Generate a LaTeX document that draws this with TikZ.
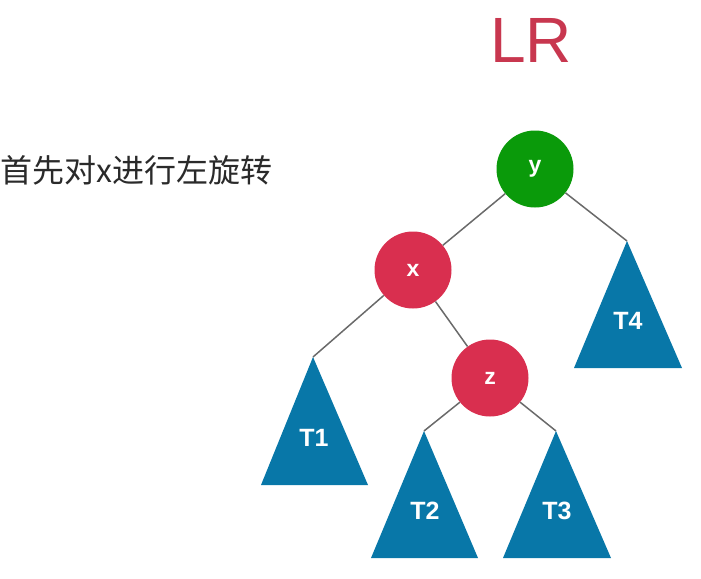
\documentclass[tikz,border=0pt]{standalone}
\usepackage{fontspec}
\setmainfont{Liberation Sans}
\newfontfamily\cjk{Noto Sans CJK SC}
\definecolor{nodegreen}{HTML}{0A9A0A}
\definecolor{nodered}{HTML}{D92F4F}
\definecolor{treeblue}{HTML}{0877A8}
\definecolor{titlered}{HTML}{C8374F}
\definecolor{edgegray}{HTML}{6A6A6A}
\definecolor{textgray}{HTML}{2A2A2A}
\begin{document}
\begin{tikzpicture}[x=1pt,y=-1pt,
  treenode/.style={circle,minimum size=77pt,inner sep=0pt,text=white,font=\fontsize{23}{25}\selectfont\bfseries},
  sublabel/.style={text=white,font=\fontsize{25}{28}\selectfont\bfseries,inner sep=0pt},
  subtree/.style={fill=treeblue},
  edge/.style={draw=edgegray,line width=1.5pt}]
\useasboundingbox (0,0) rectangle (701,578);
% title and caption
\node[text=titlered,font=\fontsize{64}{70}\selectfont] (title) at (531,40) {LR};
\node[anchor=west,text=textgray,font=\cjk\fontsize{32}{34}\selectfont,inner sep=0pt] (caption) at (0.5,170) {首先对x进行左旋转};
% apex coordinates of subtrees
\coordinate (t1a) at (313,357);
\coordinate (t2a) at (424,431);
\coordinate (t3a) at (556,431);
\coordinate (t4a) at (627,241);
% circle nodes
\node[treenode,fill=nodegreen] (y) at (535,169) {y};
\node[treenode,fill=nodered] (x) at (413,270) {x};
\node[treenode,fill=nodered] (z) at (490,378) {z};
% edges
\draw[edge] (y) -- (x);
\draw[edge] (y) -- (t4a);
\draw[edge] (x) -- (t1a);
\draw[edge] (x) -- (z);
\draw[edge] (z) -- (t2a);
\draw[edge] (z) -- (t3a);
% subtrees
\fill[subtree] (t1a) -- (368,485) -- (261,485) -- cycle;
\fill[subtree] (t2a) -- (478,558) -- (371,558) -- cycle;
\fill[subtree] (t3a) -- (611,558) -- (503,558) -- cycle;
\fill[subtree] (t4a) -- (682,368) -- (574,368) -- cycle;
\node[sublabel] (T1) at (314,438) {T1};
\node[sublabel] (T2) at (425,511) {T2};
\node[sublabel] (T3) at (557,511) {T3};
\node[sublabel] (T4) at (628,321) {T4};
\end{tikzpicture}
\end{document}
